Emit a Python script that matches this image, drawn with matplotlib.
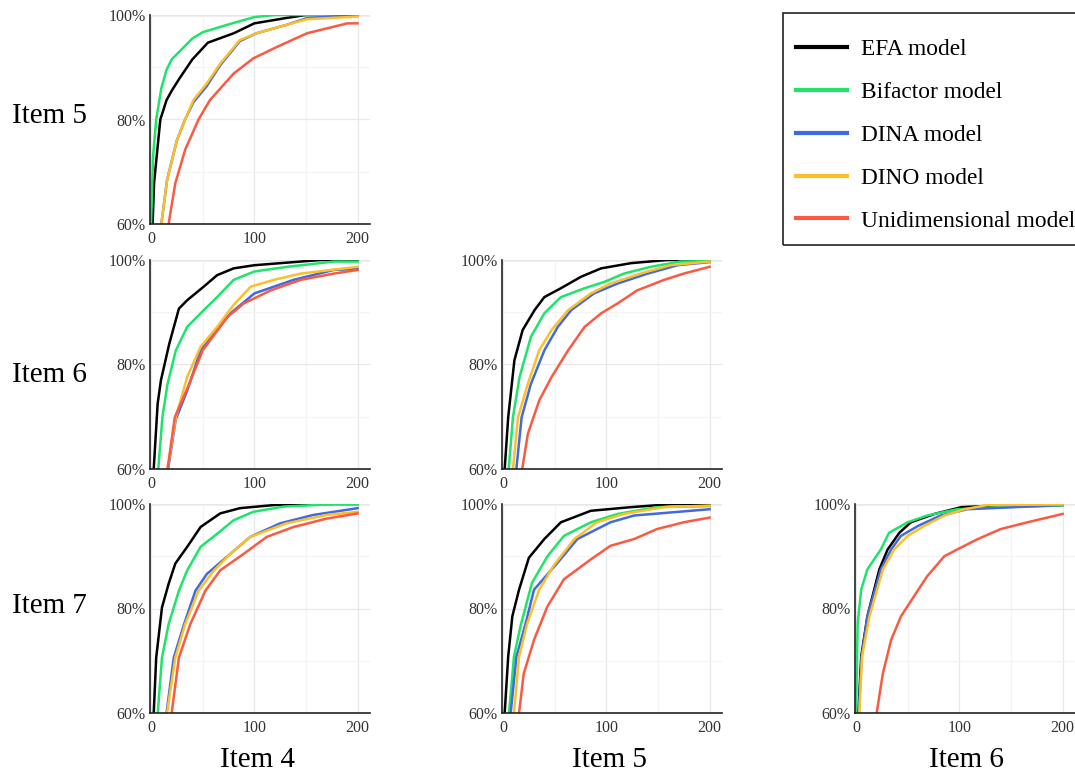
import matplotlib.pyplot as plt
from matplotlib.patches import Rectangle
from matplotlib.ticker import FuncFormatter, MultipleLocator

plt.rcParams['font.family'] = ['Liberation Serif', 'DejaVu Serif']

models = ['EFA model', 'Bifactor model', 'DINA model', 'DINO model', 'Unidimensional model']
colors = ['#000000', '#1ee46a', '#4169e1', '#fbbf2a', '#fa5a42']
row_items = ['Item 5', 'Item 6', 'Item 7']
col_items = ['Item 4', 'Item 5', 'Item 6']

# cumulative percentage curves: (x values, y values in %)
# panel (row, col)
p00_efa = ([1.5, 3, 6, 9, 15, 20, 28, 40, 55, 80, 100, 130, 150, 200],
           [60, 68, 74, 80, 83.7, 85.5, 88, 91.5, 94.7, 96.5, 98.4, 99.4, 100, 100])
p00_bif = ([0, 2, 5, 10, 15, 20, 30, 40, 50, 75, 100, 120, 200],
           [60, 73, 80, 86, 89.5, 91.5, 93.5, 95.5, 96.7, 98.2, 99.6, 100, 100])
p00_dina = ([10, 15.5, 25, 33, 41, 54, 67, 86, 102, 131, 151, 200],
            [60, 68.4, 76, 80, 83.3, 86.4, 90.4, 95, 96.5, 98.1, 99.4, 100])
p00_dino = ([10, 15.5, 25, 33, 41, 54, 67, 86, 102, 131, 151, 200],
            [60, 68.4, 76, 80, 83.7, 86.9, 90.7, 95.2, 96.5, 98.1, 99.2, 99.7])
p00_uni = ([17, 23.5, 33, 46, 57, 80, 99, 122, 151, 190, 200],
           [60, 67.8, 74.2, 80, 83.7, 88.8, 91.7, 93.9, 96.5, 98.4, 98.4])

p10_efa = ([2.6, 6.4, 9.6, 17.7, 27, 35, 51, 64, 80, 100, 132, 164, 200],
           [60, 72.5, 77, 84, 90.7, 92.3, 94.9, 97.1, 98.4, 99, 99.5, 100, 100])
p10_bif = ([7, 11, 16, 24, 35, 48, 64, 80, 100, 132, 177, 200],
           [60, 69.9, 76.3, 82.7, 87.2, 89.8, 92.9, 96.2, 97.8, 98.7, 99.7, 99.7])
p10_dina = ([16.5, 24, 35, 48, 77, 100, 138, 177, 200],
            [60, 69.5, 75, 82.7, 89.8, 93.6, 96.2, 98.1, 98.3])
p10_dino = ([16, 24, 35, 48, 64, 80, 96.5, 119, 145, 200],
            [60, 69.9, 77.6, 83.4, 87.2, 91.4, 94.9, 96.2, 97.4, 98.7])
p10_uni = ([16, 23, 37, 50, 74, 90, 116, 145, 177, 200],
           [60, 69.9, 76.3, 82.7, 89.1, 91.7, 94.2, 96.2, 97.4, 98.1])

p11_efa = ([1.6, 5, 11, 19, 30.5, 40, 56, 75.6, 95, 124, 159, 200],
           [60, 69.9, 80.8, 86.6, 90.4, 92.9, 94.6, 96.8, 98.4, 99.4, 100, 100])
p11_bif = ([5.5, 9.6, 16, 27, 40, 56, 79, 98, 117, 143, 172, 200],
           [60, 69.9, 77.6, 85.3, 89.8, 92.9, 94.6, 95.8, 97.4, 98.7, 99.7, 99.8])
p11_dina = ([12.9, 18, 27, 40, 53, 66, 88, 111, 140, 169, 200],
            [60, 69.9, 76.3, 82.7, 87.2, 90.4, 93.6, 95.5, 97.4, 99, 99.6])
p11_dino = ([9.6, 14.5, 24, 35, 47, 63, 85, 104, 133, 162, 200],
            [60, 69.9, 76.3, 82.7, 86.6, 90.4, 93.6, 95.5, 97.4, 99, 99.7])
p11_uni = ([18.6, 24, 35, 47, 63, 79, 95, 111, 130, 156, 175, 200],
           [60, 66.7, 73.1, 77.6, 82.7, 87.2, 89.8, 91.7, 94.2, 96.2, 97.4, 98.7])

p20_efa = ([2.6, 5, 10.6, 17, 23.5, 35, 48, 67, 86, 119, 150, 200],
           [60, 70.6, 80.2, 84.7, 88.6, 91.8, 95.6, 98.2, 99.2, 99.8, 100, 100])
p20_bif = ([6.5, 10.6, 17, 27, 35, 48, 64, 80, 99, 128, 180, 200],
           [60, 70.6, 77, 83.4, 87.3, 91.8, 94.3, 96.9, 98.5, 99.5, 100, 100])
p20_dina = ([15, 22, 32, 43, 54, 73.5, 96, 125, 157, 200],
            [60, 70.6, 77, 83.4, 86.6, 89.9, 93.7, 96.3, 97.9, 99.2])
p20_dino = ([15.5, 23.5, 33, 46, 61, 77, 96, 131, 170, 200],
            [60, 70.6, 77, 83.4, 87.3, 90.5, 93.7, 96.3, 97.9, 98.5])
p20_uni = ([20, 27, 38, 52.6, 67, 90, 112, 138, 170, 200],
           [60, 70.6, 77, 83.4, 87.3, 90.5, 93.7, 95.6, 97.2, 98.2])

p21_efa = ([1.6, 5, 9, 15.5, 25, 40, 56, 85, 124, 165, 200],
           [60, 70.8, 78.5, 83.6, 89.7, 93.3, 96.5, 98.7, 99.4, 100, 100])
p21_bif = ([5.8, 10.6, 17, 28, 43, 59, 85, 111, 149, 200],
           [60, 70.8, 76.7, 84.9, 90, 93.9, 96.5, 98.1, 99.4, 99.6])
p21_dina = ([7.4, 13, 22, 30, 53, 72, 104, 127, 200],
            [60, 70.8, 77.2, 83.6, 88.8, 93.3, 96.5, 97.8, 99.0])
p21_dino = ([10.6, 15.5, 23.5, 35, 49, 69, 91, 117, 156, 200],
            [60, 70.8, 77.2, 83.6, 88.2, 93.3, 96.5, 98.1, 99.4, 99.7])
p21_uni = ([15.5, 20, 30, 43, 59, 85, 104, 127, 149, 175, 200],
           [60, 67.5, 74, 80.4, 85.6, 89.4, 92, 93.3, 95.2, 96.5, 97.4])

p22_efa = ([2.3, 5, 11, 22.6, 30.6, 42, 53, 76, 102, 170, 200],
           [60, 70.8, 78.5, 87.5, 91.3, 94.5, 96.5, 98.1, 99.4, 100, 100])
p22_bif = ([0, 1.6, 5, 11, 24, 32, 50, 69, 98, 140, 200],
           [60, 77.2, 83.6, 87.5, 91.3, 94.5, 96.5, 97.8, 99, 99.4, 99.7])
p22_dina = ([2.6, 5.5, 11, 24, 34, 43.5, 60, 82, 108, 200],
            [60, 70.8, 78.5, 87.5, 91.3, 93.9, 95.8, 97.8, 99, 99.8])
p22_dino = ([3.2, 5.8, 13, 26, 37, 50, 66, 85.5, 105, 127, 200],
            [60, 70.8, 78.5, 87.5, 91.3, 93.9, 95.8, 97.8, 99, 99.8, 99.9])
p22_uni = ([20, 26, 34, 43.5, 56, 69, 85.5, 98, 118, 140, 166, 200],
           [60, 67.6, 74, 78.5, 82.3, 86.2, 90, 91.3, 93.3, 95.2, 96.5, 98.1])

panels = {
    (0, 0): [p00_efa, p00_bif, p00_dina, p00_dino, p00_uni],
    (1, 0): [p10_efa, p10_bif, p10_dina, p10_dino, p10_uni],
    (1, 1): [p11_efa, p11_bif, p11_dina, p11_dino, p11_uni],
    (2, 0): [p20_efa, p20_bif, p20_dina, p20_dino, p20_uni],
    (2, 1): [p21_efa, p21_bif, p21_dina, p21_dino, p21_uni],
    (2, 2): [p22_efa, p22_bif, p22_dina, p22_dino, p22_uni],
}

W, H = 1075, 773
fig = plt.figure(figsize=(W / 100, H / 100), dpi=100)

col_left = [150, 502, 855]
row_top = [15, 260, 504]
ax_w, ax_h = 220, 209

for (r, c), curves in panels.items():
    ax = fig.add_axes([col_left[c] / W, (H - row_top[r] - ax_h) / H, ax_w / W, ax_h / H])
    for (xs, ys), col, name in zip(curves, colors, models):
        ax.plot(xs, ys, color=col, lw=1.8, label=name)
    ax.set_xlim(-1, 212)
    ax.set_ylim(60, 100)
    ax.xaxis.set_major_locator(MultipleLocator(100))
    ax.xaxis.set_minor_locator(MultipleLocator(50))
    ax.yaxis.set_major_locator(MultipleLocator(20))
    ax.yaxis.set_minor_locator(MultipleLocator(10))
    ax.yaxis.set_major_formatter(FuncFormatter(lambda v, p: f'{v:.0f}%'))
    ax.grid(which='major', color='#e8e8e8', lw=0.9)
    ax.grid(which='minor', color='#f4f4f4', lw=0.9)
    ax.set_axisbelow(True)
    ax.axhline(100, color='#aaaaaa', lw=1.0, zorder=0.5)
    for s in ['top', 'right']:
        ax.spines[s].set_visible(False)
    for s in ['left', 'bottom']:
        ax.spines[s].set_color('#222222')
        ax.spines[s].set_linewidth(1.2)
    ax.tick_params(which='both', length=0, labelsize=11.5, colors='#333333')
    ax.tick_params(axis='x', pad=5)
    ax.tick_params(axis='y', pad=3)

# row and column labels
row_y = [116, 375, 606]
for lab, y in zip(row_items, row_y):
    fig.text(12 / W, 1 - y / H, lab, fontsize=21, ha='left', va='center')
col_x = [258, 610, 966]
for lab, x in zip(col_items, col_x):
    fig.text(x / W, 1 - 760 / H, lab, fontsize=21, ha='center', va='center')

# legend with its own frame running off the right edge
fig.patches.append(Rectangle((783 / W, (H - 245) / H), 320 / W, 232 / H,
                             transform=fig.transFigure, fill=False,
                             edgecolor='#222222', lw=1.2))
handles = [plt.Line2D([], [], color=c, lw=3) for c in colors]
fig.legend(handles, models, loc='upper left', bbox_to_anchor=(796 / W, 1 - 39 / H),
           frameon=False, fontsize=16.8, handlelength=2.2, handletextpad=0.6,
           labelspacing=0.92, borderpad=0, borderaxespad=0)

fig.savefig('out.png', dpi=100)
